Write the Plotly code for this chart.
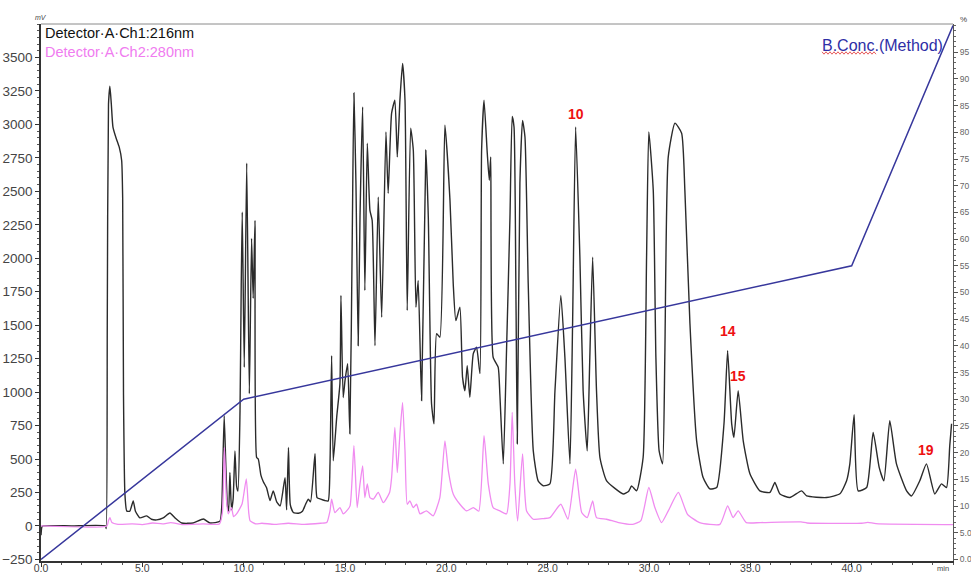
import plotly.graph_objects as go

# Detector A, channel 1 (216 nm): retention time (min) and signal (mV)
ch1_time = [0.00, 0.04, 0.10, 1.50, 3.18, 3.22, 3.27, 3.33, 3.40, 3.47, 3.55, 3.70, 3.86, 3.98, 4.03, 4.07,
            4.14, 4.23, 4.38, 4.55, 4.66, 4.88, 5.21, 5.45, 5.71, 6.03, 6.36, 6.61, 6.94, 7.51, 8.01, 8.34,
            8.83, 8.92, 8.98, 9.04, 9.12, 9.20, 9.26, 9.32, 9.40, 9.48, 9.57, 9.65, 9.72, 9.82, 9.88, 9.93,
            10.03, 10.15, 10.28, 10.39, 10.47, 10.56, 10.64, 10.72, 10.85, 10.97, 11.13, 11.30, 11.46, 11.63,
            11.80, 12.04, 12.12, 12.21, 12.30, 12.45, 12.70, 12.90, 13.05, 13.19, 13.30, 13.52, 13.62, 13.80,
            14.00, 14.17, 14.26, 14.34, 14.42, 14.59, 14.75, 14.80, 14.91, 15.00, 15.13, 15.24, 15.36, 15.44,
            15.54, 15.65, 15.74, 15.87, 15.98, 16.10, 16.23, 16.34, 16.48, 16.64, 16.81, 17.02, 17.13, 17.30,
            17.46, 17.58, 17.71, 17.84, 17.96, 18.07, 18.24, 18.37, 18.50, 18.61, 18.78, 18.99, 19.11, 19.27,
            19.39, 19.52, 19.68, 19.93, 20.18, 20.34, 20.47, 20.67, 20.80, 20.92, 21.03, 21.16, 21.33, 21.49,
            21.66, 21.74, 21.86, 22.02, 22.12, 22.19, 22.31, 22.56, 22.64, 22.81, 22.97, 23.14, 23.25, 23.34,
            23.43, 23.50, 23.63, 23.76, 23.88, 24.04, 24.29, 24.53, 24.78, 25.11, 25.36, 25.65, 25.85, 26.10,
            26.23, 26.38, 26.59, 26.75, 26.95, 27.08, 27.22, 27.41, 27.58, 27.91, 28.73, 29.00, 29.14, 29.39,
            29.71, 29.88, 29.99, 30.21, 30.34, 30.50, 30.67, 30.78, 30.95, 31.28, 31.61, 31.77, 32.02, 32.35,
            32.67, 33.00, 33.34, 33.70, 33.88, 34.08, 34.19, 34.40, 34.65, 34.98, 35.47, 35.97, 36.21, 36.46,
            36.95, 37.53, 37.78, 38.76, 39.42, 39.75, 39.91, 40.12, 40.32, 40.74, 41.06, 41.36, 41.59, 41.88,
            42.21, 42.71, 42.95, 43.36, 43.69, 44.10, 44.43, 44.68, 44.84, 44.93]
ch1_mv = [-70, -10, 0, 0, 0, -20, 1500, 3150, 3286, 3150, 2980, 2900, 2830, 2730, 2450, 990,
          240, 112, 110, 187, 110, 60, 75, 50, 45, 60, 97, 60, 22, 22, 52, 22,
          35, 150, 500, 823, 450, 150, 112, 400, 120, 200, 560, 300, 260, 860, 1800, 2345,
          1185, 2710, 988, 2148, 1700, 2283, 511, 500, 380, 330, 285, 190, 262, 180,
          150, 360, 120, 586, 160, 100, 95, 110, 160, 200, 180, 539, 212, 200,
          190, 187, 464, 1272, 487, 811, 1063, 1722, 960, 1085, 1212, 689, 2200, 3234,
          2560, 1347, 2306, 3131, 1759, 2859, 2358, 2283, 1347, 2457, 1559, 2944, 2485, 3084,
          3181, 2757, 3181, 3456, 3181, 1609, 2972, 2807, 1634, 1834, 936, 2807, 2308, 913,
          763, 1437, 1410, 2994, 2432, 1811, 1534, 1634, 1110, 1010, 1198, 961, 1287, 1335,
          1138, 2807, 3181, 2784, 2582, 2757, 1260, 1185, 988, 464, 1310, 2308, 3060, 2981,
          1811, 614, 2560, 3030, 2906, 1811, 561, 337, 300, 314, 1010, 1722, 1260, 464,
          1510, 2981, 2008, 1010, 561, 1260, 2008, 1010, 511, 337, 239, 260, 299, 262,
          511, 2008, 2944, 2507, 1260, 561, 464, 1260, 2757, 3009, 2934, 2507, 1512, 636,
          361, 277, 287, 763, 1310, 763, 661, 1010, 636, 389, 262, 250, 324, 239,
          212, 262, 224, 212, 240, 337, 464, 831, 262, 287, 698, 436, 337, 786,
          464, 262, 224, 337, 464, 239, 314, 287, 600, 763]

# Detector A, channel 2 (280 nm)
ch2_time = [0.00, 3.25, 3.33, 3.40, 3.50, 3.80, 4.50, 5.00, 5.50, 6.00, 6.40, 7.00, 8.00, 8.80, 8.95,
            9.05, 9.15, 9.24, 9.40, 9.50, 9.65, 9.92, 10.13, 10.25, 10.32, 10.60, 10.90, 11.50, 12.20,
            13.00, 13.80, 14.10, 14.26, 14.34, 14.50, 14.75, 14.91, 15.08, 15.25, 15.44, 15.60, 15.74,
            15.87, 15.98, 16.10, 16.23, 16.40, 16.64, 16.89, 17.20, 17.30, 17.46, 17.58, 17.71, 17.84,
            17.96, 18.07, 18.20, 18.37, 18.53, 18.70, 19.02, 19.35, 19.68, 19.93, 20.10, 20.34, 20.67,
            21.00, 21.33, 21.60, 21.86, 22.07, 22.31, 22.64, 22.97, 23.14, 23.25, 23.38, 23.52, 23.76,
            23.96, 24.29, 24.80, 25.11, 25.65, 26.00, 26.38, 26.68, 26.95, 27.22, 27.41, 27.91, 28.50,
            29.20, 29.60, 29.99, 30.29, 30.62, 30.95, 31.45, 31.90, 32.50, 33.50, 33.88, 34.15, 34.40,
            34.80, 35.50, 37.50, 37.80, 40.50, 40.80, 41.20, 45.00]
ch2_mv = [0, 0, 40, 62, 25, 12, 15, 10, 22, 15, 25, 10, 15, 15, 100,
          586, 200, 90, 137, 70, 90, 164, 352, 100, 37, 15, 20, 12, 20,
          12, 20, 25, 112, 200, 100, 137, 90, 112, 150, 599, 137, 314,
          449, 212, 314, 212, 200, 250, 174, 250, 361, 736, 399, 686, 923,
          561, 162, 187, 137, 162, 90, 112, 75, 212, 636, 412, 239, 162,
          112, 137, 110, 674, 314, 137, 112, 90, 314, 848, 314, 37, 539,
          112, 50, 55, 62, 162, 50, 424, 100, 62, 187, 62, 50, 25,
          12, 40, 287, 137, 25, 112, 250, 87, 25, 12, 150, 62, 112,
          25, 25, 30, 22, 20, 27, 17, 10]

# Gradient program, solvent B concentration (%)
grad_time = [0, 10, 40, 45]
grad_pct = [0, 30, 55, 100]

# Numbered peaks on channel 1
peak_names = ["10", "14", "15", "19"]
peak_time = [26.38, 33.88, 34.40, 43.69]
peak_mv = [2981, 1310, 1010, 464]

# Axis ticks
mv_ticks = list(range(-250, 3501, 250))
min_ticks = [0, 5, 10, 15, 20, 25, 30, 35, 40]
min_tick_text = ["0.0", "5.0", "10.0", "15.0", "20.0", "25.0", "30.0", "35.0", "40.0"]
pct_ticks = list(range(0, 96, 5))
pct_tick_text = ["0.0", "5.0"] + [str(v) for v in range(10, 96, 5)]

FONT = "Liberation Sans, Arial, sans-serif"
L, R, T, B = 41, 18, 24, 14
W, H = 971, 575
PW, PH = W - L - R, H - T - B

fig = go.Figure()
fig.add_trace(go.Scatter(x=ch1_time, y=ch1_mv, mode="lines",
                         line=dict(color="#2b2b2b", width=1.4, shape="spline", smoothing=0.5),
                         name="Detector A Ch1:216nm"))
fig.add_trace(go.Scatter(x=ch2_time, y=ch2_mv, mode="lines",
                         line=dict(color="#f08cf0", width=1.3, shape="spline", smoothing=0.5),
                         name="Detector A Ch2:280nm"))
fig.add_trace(go.Scatter(x=grad_time, y=grad_pct, mode="lines", yaxis="y2",
                         line=dict(color="#37379c", width=1.5),
                         name="B.Conc.(Method)"))

# peak numbers above their apexes
label_lift = [3, 10, 5, 4]
for name, t, v, lift in zip(peak_names, peak_time, peak_mv, label_lift):
    fig.add_annotation(x=t, y=v, text=f"<b>{name}</b>", showarrow=False,
                       yanchor="bottom", yshift=lift,
                       font=dict(family=FONT, size=14, color="#ee1111"))

# channel captions (one text block, second line in the channel 2 colour)
fig.add_annotation(xref="paper", yref="paper", x=0.002, y=1.0, xanchor="left", yanchor="top",
                   yshift=1, align="left",
                   text="Detector·A·Ch1:216nm<br><span style='color:#f07cf0'>Detector·A·Ch2:280nm</span>",
                   showarrow=False,
                   font=dict(family=FONT, size=14.5, color="#111111"))
fig.add_annotation(xref="paper", yref="paper", x=(945 - L) / PW, y=(H - B - 45) / PH,
                   xanchor="right", yanchor="middle",
                   text="B.Conc.(Method)", showarrow=False,
                   font=dict(family=FONT, size=16, color="#2e2ea6"))

# unit captions at the axis ends
fig.add_annotation(xref="paper", yref="paper", x=0, y=1, xanchor="center", yanchor="bottom",
                   yshift=1, text="<i>mV</i>", showarrow=False,
                   font=dict(family=FONT, size=7, color="#444"))
fig.add_annotation(xref="paper", yref="paper", x=1, y=1, xanchor="left", yanchor="bottom",
                   xshift=5, yshift=-2, text="%", showarrow=False,
                   font=dict(family=FONT, size=8, color="#444"))
fig.add_annotation(xref="paper", yref="paper", x=1, y=0, xanchor="right", yanchor="top",
                   xshift=-2, yshift=-1, text="min", showarrow=False,
                   font=dict(family=FONT, size=7.5, color="#444"))

# wavy proofing underline beneath "B.Conc"
x0, x1, yb = 822, 876, 53
pts = []
k = 0
px = x0
while px <= x1:
    py = yb + (1.2 if k % 2 else -1.2)
    pts.append(((px - L) / PW, (H - B - py) / PH))
    px += 2
    k += 1
path = "M " + " L ".join(f"{a:.5f},{b:.5f}" for a, b in pts)
fig.add_shape(type="path", xref="paper", yref="paper", path=path,
              line=dict(color="#e03030", width=0.8))

# thin top frame line
fig.add_shape(type="line", xref="paper", yref="paper", x0=0, x1=1, y0=1, y1=1,
              line=dict(color="#8a8a8a", width=1))

fig.update_layout(
    width=W, height=H,
    margin=dict(l=L, r=R, t=T, b=B, autoexpand=False),
    paper_bgcolor="white", plot_bgcolor="white",
    showlegend=False,
    xaxis=dict(range=[0, 45], tickmode="array", tickvals=min_ticks, ticktext=min_tick_text,
               automargin=False, ticklabelstandoff=-7,
               ticks="outside", ticklen=4, tickcolor="#333", showgrid=False, zeroline=False,
               showline=True, linecolor="#333", linewidth=1.5,
               tickfont=dict(family=FONT, size=10.5, color="#444"),
               minor=dict(dtick=1, tick0=0, ticks="outside", ticklen=2, tickcolor="#555")),
    yaxis=dict(range=[-262, 3750], tickmode="array", tickvals=mv_ticks,
               automargin=False,
               ticks="outside", ticklen=4, tickcolor="#333", showgrid=False, zeroline=False,
               showline=True, linecolor="#333", linewidth=1.5,
               tickfont=dict(family=FONT, size=13.5, color="#444"),
               minor=dict(dtick=50, tick0=0, ticks="outside", ticklen=2, tickcolor="#555")),
    yaxis2=dict(range=[-0.3, 100.3], overlaying="y", side="right", tickmode="array",
                tickvals=pct_ticks, ticktext=pct_tick_text, automargin=False,
                ticks="outside", ticklen=4, tickcolor="#555", showgrid=False, zeroline=False,
                showline=True, linecolor="#555", linewidth=1.2,
                tickfont=dict(family=FONT, size=8.5, color="#666"),
                minor=dict(dtick=1, tick0=0, ticks="outside", ticklen=2, tickcolor="#666")),
)

fig.write_html("out.html")
